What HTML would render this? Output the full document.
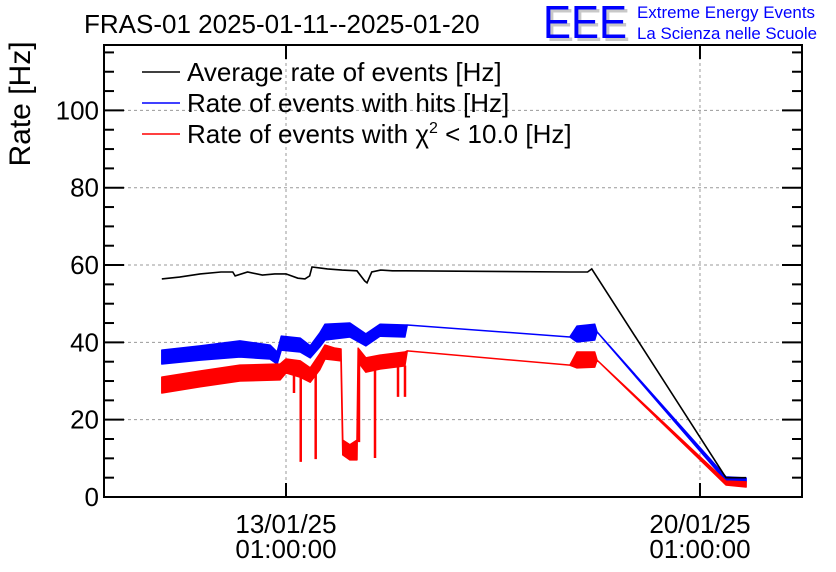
<!DOCTYPE html>
<html><head><meta charset="utf-8"><style>
body{margin:0;background:#fff}
svg{display:block;font-family:"Liberation Sans",sans-serif}
</style></head><body>
<svg id="c" width="836" height="572" viewBox="0 0 836 572">
<g id="grid"></g>
<g id="series"></g>
<g id="axes"></g>
<text x="84" y="33" font-size="26">FRAS-01 2025-01-11--2025-01-20</text>
<g>
<text x="546" y="41" font-size="46" fill="#c8c8c8" textLength="84" lengthAdjust="spacingAndGlyphs">EEE</text>
<text x="543" y="38" font-size="46" fill="#0000ff" textLength="84" lengthAdjust="spacingAndGlyphs">EEE</text>
<text x="637" y="18" font-size="17" fill="#0000ff" textLength="178" lengthAdjust="spacingAndGlyphs">Extreme Energy Events</text>
<text x="637" y="39" font-size="17" fill="#0000ff" textLength="180" lengthAdjust="spacingAndGlyphs">La Scienza nelle Scuole</text>
</g>
<text transform="translate(30,104) rotate(-90)" text-anchor="middle" font-size="30">Rate [Hz]</text>
<g>
<g><line x1="142" y1="72" x2="180" y2="72" stroke="#000" stroke-width="1.5"/><text x="187" y="81" font-size="26">Average rate of events [Hz]</text></g>
<g><line x1="142" y1="103" x2="180" y2="103" stroke="#0000ff" stroke-width="1.5"/><text x="187" y="112" font-size="26">Rate of events with hits [Hz]</text></g>
<g><line x1="142" y1="134" x2="180" y2="134" stroke="#ff0000" stroke-width="1.5"/><text x="187" y="143" font-size="26">Rate of events with χ<tspan font-size="16" dy="-10">2</tspan><tspan dy="10"> &lt; 10.0 [Hz]</tspan></text></g>
</g>
</svg>
<script>
// time in days relative to 13/01/25 01:00:00
const xTickDays=[0,7];
const xTickLabels=[["13/01/25","01:00:00"],["20/01/25","01:00:00"]];
const yTicks=[0,20,40,60,80,100];
const blackT=[-2.10,-1.80,-1.45,-1.10,-0.90,-0.86,-0.65,-0.40,-0.19,0,0.20,0.32,0.40,0.44,0.70,0.95,1.20,1.33,1.37,1.45,1.60,1.80,2.03,4.80,5.10,5.17,7.44,7.78];
const blackV=[56.4,56.9,57.7,58.2,58.2,57.2,58.2,57.4,57.7,57.7,56.6,56.4,57.2,59.5,59.0,58.7,58.5,55.9,55.4,58.2,58.7,58.5,58.5,58.2,58.2,59.0,5.0,5.0];
const blueT=[-2.10,-1.45,-0.78,-0.27,-0.15,-0.08,0.24,0.41,0.57,0.66,1.08,1.35,1.59,2.01,2.05,4.80,4.92,5.22,5.26,7.44,7.78];
const blueHi=[38.0,39.1,40.4,39.3,37.5,41.6,41.1,39.1,42.4,44.7,45.0,42.2,44.7,44.5,44.5,41.4,44.2,44.7,42.7,5.2,4.9];
const blueLo=[34.4,35.4,36.2,35.7,34.4,38.0,37.5,36.0,38.8,40.6,41.4,39.1,41.6,41.4,44.5,41.4,40.1,40.6,42.7,4.1,3.9];
const redT=[-2.10,-1.45,-0.78,-0.10,0,0.24,0.41,0.57,0.66,0.83,0.93,0.96,1.08,1.20,1.22,1.35,1.59,2.01,2.05,4.80,4.92,5.22,5.26,7.44,7.78];
const redHi=[31.0,32.6,34.1,34.4,35.7,35.2,33.4,37.0,39.3,38.5,38.3,14.7,13.5,14.7,38.5,36.0,36.7,37.5,37.8,34.1,37.5,37.5,35.4,4.1,3.9];
const redLo=[26.9,28.5,30.0,30.3,32.1,31.0,29.7,32.9,35.7,35.4,35.2,10.9,9.6,9.6,34.9,32.3,33.1,33.9,37.8,34.1,33.4,33.6,35.4,3.1,2.6];
const spikeT=[0.135,0.249,0.502,1.234,1.505,1.894,2.012];
const spikeTop=[32,31,33,35,33,34,34];
const spikeBottom=[26.9,9.1,9.8,14.2,10.1,25.9,25.9];

const L=104,R=802,T=45,B=497;
const X=d=>286+d*59.14;
const Y=v=>B-v*3.866;
const NS="http://www.w3.org/2000/svg";
function mk(tag,parent,attrs){const e=document.createElementNS(NS,tag);for(const k in attrs)e.setAttribute(k,attrs[k]);parent.appendChild(e);return e;}
const grid=document.getElementById('grid'),axes=document.getElementById('axes'),ser=document.getElementById('series');
yTicks.forEach(v=>{if(v===0)return;const l=mk('line',grid,{x1:L,x2:R,y1:Y(v),y2:Y(v),stroke:'#999','stroke-dasharray':'3,3','stroke-width':1});

});
xTickDays.forEach(d=>{const l=mk('line',grid,{x1:X(d),x2:X(d),y1:T,y2:B,stroke:'#999','stroke-dasharray':'3,3','stroke-width':1});

});
const fr=mk('rect',axes,{x:L,y:T,width:R-L,height:B-T,fill:'none',stroke:'#000','stroke-width':2});


for(let v=0;v<=115;v+=5){const major=v%20===0;const len=major?20:10;
mk('line',axes,{x1:L,x2:L+len,y1:Y(v),y2:Y(v),stroke:'#000','stroke-width':2});
mk('line',axes,{x1:R,x2:R-len,y1:Y(v),y2:Y(v),stroke:'#000','stroke-width':2});}
yTicks.forEach(v=>{const t=mk('text',axes,{x:99,y:Y(v)+9,'text-anchor':'end','font-size':26});t.textContent=v;

});
xTickDays.forEach((d,i)=>{mk('line',axes,{x1:X(d),x2:X(d),y1:B,y2:B-14,stroke:'#000','stroke-width':2});
mk('line',axes,{x1:X(d),x2:X(d),y1:T,y2:T+14,stroke:'#000','stroke-width':2});
xTickLabels[i].forEach((s,j)=>{const t=mk('text',axes,{x:X(d),y:533+j*25,'text-anchor':'middle','font-size':26});t.textContent=s;

});});
function band(T_,hi,lo,col,name){let p=T_.map((t,i)=>X(t)+','+Y(hi[i]));for(let i=T_.length-1;i>=0;i--)p.push(X(T_[i])+','+Y(lo[i]));
const e=mk('polygon',ser,{points:p.join(' '),fill:col,stroke:col,'stroke-width':1.5,'stroke-linejoin':'round'});

}
band(blueT,blueHi,blueLo,'#0000ff','hits-rate-series');
band(redT,redHi,redLo,'#ff0000','chi2-rate-series');
spikeT.forEach((t,i)=>{const e=mk('line',ser,{x1:X(t),x2:X(t),y1:Y(spikeTop[i]),y2:Y(spikeBottom[i]),stroke:'#ff0000','stroke-width':2.5});

});
const bl=mk('polyline',ser,{points:blackT.map((t,i)=>X(t)+','+Y(blackV[i])).join(' '),fill:'none',stroke:'#000','stroke-width':1.6});


</script>
</body></html>
